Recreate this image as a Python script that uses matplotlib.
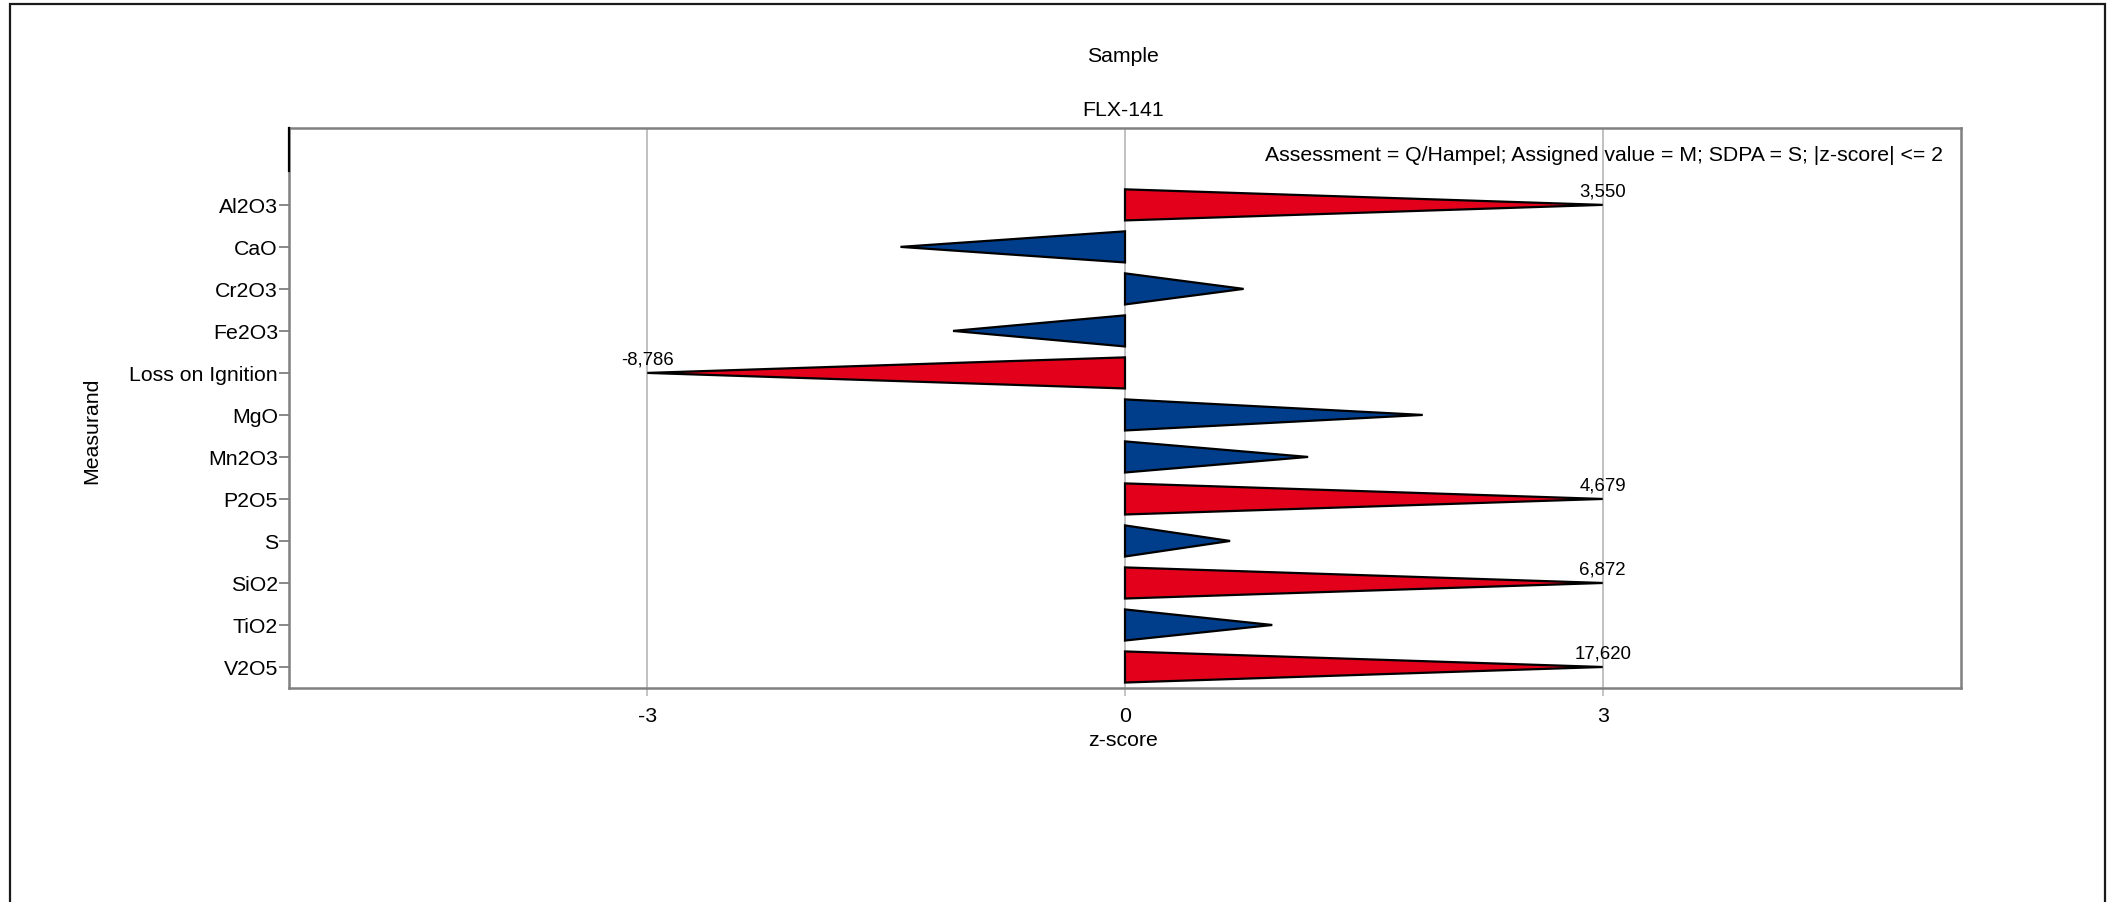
import matplotlib
matplotlib.use("Agg")
import matplotlib.pyplot as plt
from matplotlib.patches import Polygon, Rectangle
from matplotlib.lines import Line2D

plt.rcParams['font.family'] = ['Liberation Sans', 'DejaVu Sans']

# Measurands and their z-scores
measurands = ["Al2O3", "CaO", "Cr2O3", "Fe2O3", "Loss on Ignition", "MgO",
              "Mn2O3", "P2O5", "S", "SiO2", "TiO2", "V2O5"]
z_scores = [3.550, -1.41, 0.745, -1.08, -8.786, 1.87,
            1.15, 4.679, 0.66, 6.872, 0.925, 17.620]
x_ticks = [-3, 0, 3]

z_limit = 2.0      # |z-score| <= 2 is satisfactory
clip_at = 3.0      # triangles are truncated at +/-3
half_height = 0.37

RED = "#e2001a"
BLUE = "#003e8c"
SPINE = "#808080"
GRID = "#c0c0c0"
FS = 15.3
FS_SMALL = 13.4

W, H = 2112, 903
fig = plt.figure(figsize=(W / 100, H / 100), dpi=100)

# frame around the whole figure
fig.patches.append(Rectangle((10 / W, -0.05), (2105 - 10) / W, 1.05 - 5 / H,
                             transform=fig.transFigure, fill=False,
                             edgecolor="#1a1a1a", linewidth=1.6))

ax_l, ax_r, ax_t, ax_b = 289, 1961, 129, 689
ax = fig.add_axes([ax_l / W, 1 - ax_b / H, (ax_r - ax_l) / W, (ax_b - ax_t) / H])

n = len(measurands)
ax.set_xlim(-5.25, 5.25)
ax.set_ylim(n - 0.5, -1.83)

for x in x_ticks:
    ax.axvline(x, color=GRID, linewidth=1.4, zorder=0)

for i, (name, z) in enumerate(zip(measurands, z_scores)):
    tip = max(-clip_at, min(clip_at, z))
    color = RED if abs(z) > z_limit else BLUE
    tri = Polygon([(0, i - half_height), (0, i + half_height), (tip, i)],
                  closed=True, facecolor=color, edgecolor="black",
                  linewidth=1.6, joinstyle="miter", zorder=3)
    ax.add_patch(tri)
    if abs(z) > clip_at:
        ax.annotate(f"{z:.3f}".replace(".", ","), xy=(tip, i),
                    xytext=(0, 4), textcoords="offset points",
                    ha="center", va="bottom", fontsize=FS_SMALL, zorder=4)

ax.set_yticks(range(n))
ax.set_yticklabels(measurands, fontsize=FS)
ax.set_xticks(x_ticks)
ax.set_xticklabels([str(t) for t in x_ticks], fontsize=FS)
ax.tick_params(axis="y", length=7, width=1.3, color=SPINE, pad=1)
ax.tick_params(axis="x", length=6, width=1.3, color=GRID, pad=7)

for s in ax.spines.values():
    s.set_color(SPINE)
    s.set_linewidth(1.8)

# short dark segment at the top of the left spine
ax.add_line(Line2D([0, 0], [1, 1 - 43 / (ax_b - ax_t)], transform=ax.transAxes,
                   color="black", linewidth=1.6, clip_on=False, zorder=5))

ax.text((1943 - ax_l) / (ax_r - ax_l), 1 - (156 - ax_t) / (ax_b - ax_t),
        "Assessment = Q/Hampel; Assigned value = M; SDPA = S; |z-score| <= 2",
        transform=ax.transAxes, ha="right", va="center", fontsize=FS)

fig.text(1123 / W, 1 - 57 / H, "Sample", ha="center", va="center", fontsize=FS)
fig.text(1123 / W, 1 - 110 / H, "FLX-141", ha="center", va="center", fontsize=FS)
fig.text(1123 / W, 1 - 741 / H, "z-score", ha="center", va="center", fontsize=FS)
fig.text(92 / W, 1 - 431 / H, "Measurand", ha="center", va="center",
         rotation=90, fontsize=FS)

fig.savefig("out.png", dpi=100)
